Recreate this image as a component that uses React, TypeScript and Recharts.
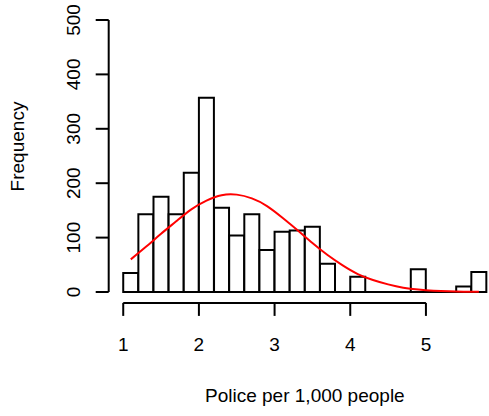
import React from 'react';
import { ComposedChart, Bar, Line, XAxis, YAxis, ReferenceLine, Label } from 'recharts';

// Histogram bins (centres), width 0.2
const binCenters = [1.1, 1.3, 1.5, 1.7, 1.9, 2.1, 2.3, 2.5, 2.7, 2.9, 3.1, 3.3, 3.5, 3.7, 3.9, 4.1, 4.3, 4.5, 4.7, 4.9, 5.1, 5.3, 5.5, 5.7];
const counts = [35, 143, 175, 143, 219, 357, 155, 104, 143, 77, 111, 113, 120, 52, 0, 28, 0, 0, 0, 42, 0, 0, 10, 37];
// Fitted normal curve (scaled to counts), read at bin centres
const curve = [60, 83, 107, 130, 152, 168, 178, 179, 172, 158, 137, 114, 90, 68, 49, 33, 22, 14, 8, 4.5, 2.4, 1.2, 0.6, 0.3];

const xTicks = [1, 2, 3, 4, 5];
const yTicks = [0, 100, 200, 300, 400, 500];
const xTitle = 'Police per 1,000 people';
const yTitle = 'Frequency';

const data = binCenters.map((x, i) => ({ x, count: counts[i], curve: curve[i] }));

const FONT = '"Liberation Sans", Arial, Helvetica, sans-serif';

const YTick = (props: any) => {
  const { x, y, payload } = props;
  return (
    <text
      x={0}
      y={0}
      transform={`translate(${x - 16},${y}) rotate(-90)`}
      textAnchor="middle"
      fontSize={19}
      fill="#000"
      fontFamily={FONT}
    >
      {payload.value}
    </text>
  );
};

const YTitle = (props: any) => {
  const vb = props.viewBox || {};
  return (
    <text
      x={0}
      y={0}
      transform={`translate(${vb.x + 15.3},${vb.y + vb.height / 2 - 9.5}) rotate(-90)`}
      textAnchor="middle"
      fontSize={19}
      fill="#000"
      fontFamily={FONT}
    >
      {yTitle}
    </text>
  );
};

export default function App() {
  return (
    <div style={{ position: 'absolute', left: 0, top: 0, width: 489, height: 416, overflow: 'hidden', background: '#fff' }}>
      <ComposedChart
        width={510}
        height={416}
        data={data}
        margin={{ top: 9.1, right: 9, bottom: 53.1, left: 8.7 }}
        barCategoryGap={0}
        barGap={0}
        style={{ fontFamily: FONT }}
      >
        <XAxis
          dataKey="x"
          type="number"
          domain={[0.808, 5.992]}
          ticks={xTicks}
          allowDataOverflow
          axisLine={false}
          tickLine={{ stroke: '#000', strokeWidth: 2 }}
          tickSize={13}
          tickMargin={22}
          tick={{ fill: '#000', fontSize: 19, fontFamily: FONT }}
          height={60}
        >
          <Label value={xTitle} position="bottom" offset={26} fill="#000" fontSize={19} fontFamily={FONT} />
        </XAxis>
        <YAxis
          type="number"
          domain={[-20, 520]}
          ticks={yTicks}
          allowDataOverflow
          axisLine={false}
          tickLine={{ stroke: '#000', strokeWidth: 2 }}
          tickSize={13}
          tickMargin={0}
          tick={<YTick />}
          width={100}
          label={{ content: <YTitle /> }}
        />
        <Bar dataKey="count" fill="#fff" stroke="#000" strokeWidth={2} isAnimationActive={false} />
        <ReferenceLine segment={[{ x: 1, y: 0 }, { x: 5.8, y: 0 }]} stroke="#000" strokeWidth={2} ifOverflow="visible" />
        <ReferenceLine segment={[{ x: 1, y: -20 }, { x: 5, y: -20 }]} stroke="#000" strokeWidth={2} ifOverflow="visible" />
        <ReferenceLine segment={[{ x: 0.808, y: 0 }, { x: 0.808, y: 500 }]} stroke="#000" strokeWidth={2} ifOverflow="visible" />
        <Line dataKey="curve" type="natural" stroke="#ff0000" strokeWidth={2} dot={false} isAnimationActive={false} />
      </ComposedChart>
    </div>
  );
}
